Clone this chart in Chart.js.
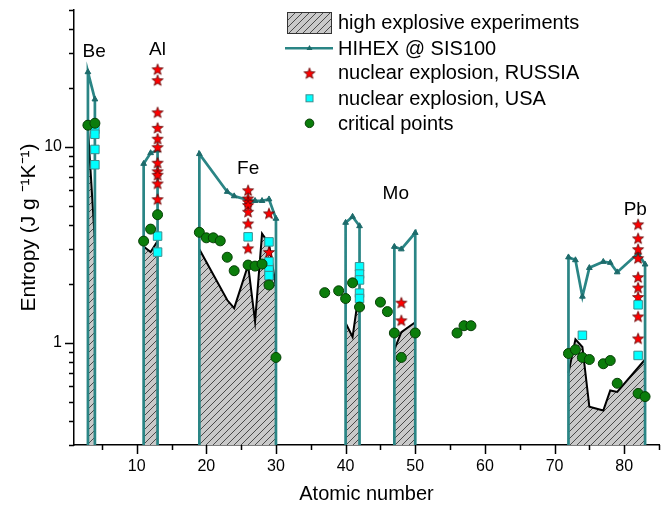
<!DOCTYPE html>
<html>
<head>
<meta charset="utf-8">
<script src="https://cdn.jsdelivr.net/npm/chart.js@4.4.1/dist/chart.umd.min.js"></script>
<style>
  html, body { margin: 0; padding: 0; background: #fff; }
</style>
</head>
<body>
<canvas id="grafico" width="666" height="511"></canvas>
<script>
// HIHEX @ SIS100 (null separa as regioes)
const hihexZ = [3, 4, null, 11, 12, 13, null, 19, 23, 24, 26, 27, 28, 29, 30, null, 40, 41, 42, null, 47, 48, 50, null, 72, 73, 74, 75, 77, 78, 79, 82, 83];
const hihexS = [24.1, 17.5, null, 8.2, 9.3, 9.6, null, 9.2, 5.9, 5.6, 5.35, 5.3, 5.3, 5.4, 4.3, null, 4.1, 4.4, 3.94, null, 3.09, 3.0, 3.64, null, 2.73, 2.64, 1.72, 2.41, 2.59, 2.56, 2.29, 2.86, 2.51];

// high explosive experiments
const heZ = [3, 4, null, 11, 12, 13, null, 19, 23, 24, 26, 27, 28, 29, 30, null, 40, 41, 42, null, 47, 48, 50, null, 72, 73, 74, 75, 77, 78, 79, 83];
const heS = [12.5, 3.3, null, 3.1, 2.9, 3.3, null, 3.0, 1.65, 1.5, 2.49, 1.28, 3.6, 3.2, 1.93, null, 1.26, 1.07, 1.9, null, 0.92, 1.13, 1.27, null, 0.70, 1.04, 0.95, 0.47, 0.45, 0.57, 0.56, 0.82];

// nuclear explosion, RUSSIA
const ruZ = [13, 13, 13, 13, 13, 13, 13, 13, 13, 13, 13, 26, 26, 26, 26, 26, 26, 26, 29, 29, 48, 48, 82, 82, 82, 82, 82, 82, 82, 82, 82];
const ruS = [24.9, 21.9, 15.0, 12.5, 11.0, 9.96, 8.3, 7.5, 7.2, 6.5, 5.4, 6.0, 5.45, 5.24, 5.04, 4.66, 4.06, 3.03, 4.57, 2.9, 1.60, 1.30, 4.02, 3.41, 3.0, 2.70, 2.16, 1.91, 1.71, 1.36, 1.05];

// nuclear explosion, USA
const usZ = [4, 4, 4, 4, 13, 13, 26, 29, 29, 29, 29, 42, 42, 42, 42, 42, 74, 82, 82];
const usS = [12.3, 11.6, 9.7, 8.1, 3.5, 2.9, 3.47, 3.27, 2.59, 2.35, 2.2, 2.44, 2.24, 2.09, 1.79, 1.68, 1.09, 1.56, 0.86];

// critical points
const crZ = [3, 4, 11, 12, 13, 19, 20, 21, 22, 23, 24, 26, 27, 28, 29, 30, 37, 39, 40, 41, 42, 45, 46, 47, 48, 50, 56, 57, 58, 72, 73, 74, 75, 77, 78, 79, 82, 83];
const crS = [12.9, 13.2, 3.3, 3.8, 4.5, 3.66, 3.43, 3.43, 3.31, 2.73, 2.33, 2.49, 2.46, 2.52, 1.97, 0.84, 1.80, 1.84, 1.68, 2.02, 1.52, 1.61, 1.44, 1.12, 0.84, 1.12, 1.12, 1.22, 1.22, 0.88, 0.92, 0.84, 0.82, 0.78, 0.81, 0.62, 0.55, 0.53];

// rotulos dos elementos
const elemNomes = ['Be', 'Al', 'Fe', 'Mo', 'Pb'];
const elemZ = [3.9, 13, 26, 47.2, 81.6];
const elemS = [30.5, 31.4, 7.76, 5.78, 4.75];

// eixos
const yMin = 0.3, yMax = 50;
const xMin = 1, xMax = 85;
const yMajor = [1, 10];
const yMinor = [0.3, 0.4, 0.5, 0.6, 0.7, 0.8, 0.9, 2, 3, 4, 5, 6, 7, 8, 9, 20, 30, 40, 50];
const xMajor = [10, 20, 30, 40, 50, 60, 70, 80];
const xMinor = [5, 15, 25, 35, 45, 55, 65, 75, 85];

const legendaTextos = ['high explosive experiments', 'HIHEX @ SIS100', 'nuclear explosion, RUSSIA', 'nuclear explosion, USA', 'critical points'];

const FONTE = "'Liberation Sans', Arial, sans-serif";
const TEAL = '#2a8585';
const TEAL_ESC = '#1d6b6b';

const canvas = document.getElementById('grafico');
const ctx0 = canvas.getContext('2d');

// padrao hachurado
function hachura() {
  const c = document.createElement('canvas');
  c.width = 7; c.height = 7;
  const g = c.getContext('2d');
  g.fillStyle = '#c9c9c9';
  g.fillRect(0, 0, 7, 7);
  g.strokeStyle = '#3a3a3a';
  g.lineWidth = 0.9;
  g.beginPath();
  g.moveTo(-1, 8); g.lineTo(8, -1);
  g.moveTo(-1, 1); g.lineTo(1, -1);
  g.moveTo(6, 8); g.lineTo(8, 6);
  g.stroke();
  return ctx0.createPattern(c, 'repeat');
}
const padrao = hachura();

// estrela vermelha
function estrela(r) {
  const s = Math.ceil(r * 2 + 2);
  const c = document.createElement('canvas');
  c.width = s; c.height = s;
  const g = c.getContext('2d');
  g.translate(s / 2, s / 2 + 0.5);
  g.beginPath();
  for (let i = 0; i < 10; i++) {
    const rr = i % 2 ? r * 0.42 : r;
    const a = -Math.PI / 2 + i * Math.PI / 5;
    g.lineTo(rr * Math.cos(a), rr * Math.sin(a));
  }
  g.closePath();
  g.fillStyle = '#ff0000';
  g.fill();
  g.strokeStyle = '#5a0000';
  g.lineWidth = 0.8;
  g.stroke();
  return c;
}
const imgEstrela = estrela(5.8);

function pontos(zs, ss) {
  return zs.map((z, i) => ({ x: z, y: ss[i] }));
}

// linhas com gaps (null) entre as regioes
function comGaps(zs, ss, queda) {
  const out = [];
  let seg = [];
  const fecha = () => {
    if (!seg.length) return;
    if (queda) out.push({ x: seg[0].x, y: yMin });
    out.push(...seg);
    if (queda) out.push({ x: seg[seg.length - 1].x, y: yMin });
    seg = [];
  };
  zs.forEach((z, i) => {
    if (z === null) {
      const ult = seg[seg.length - 1].x;
      fecha();
      out.push({ x: ult, y: null });
    } else {
      seg.push({ x: z, y: ss[i] });
    }
  });
  fecha();
  return out;
}

const marcasPlugin = {
  id: 'marcas',
  afterDraw(chart) {
    const { ctx, chartArea: a, scales: { x, y } } = chart;
    ctx.save();
    ctx.strokeStyle = '#000';
    ctx.lineWidth = 1.5;
    ctx.beginPath();
    yMajor.forEach(v => { const p = Math.round(y.getPixelForValue(v)) + 0.5; ctx.moveTo(a.left - 9, p); ctx.lineTo(a.left, p); });
    yMinor.forEach(v => { const p = Math.round(y.getPixelForValue(v)) + 0.5; ctx.moveTo(a.left - 5, p); ctx.lineTo(a.left, p); });
    xMajor.forEach(v => { const p = Math.round(x.getPixelForValue(v)) + 0.5; ctx.moveTo(p, a.bottom); ctx.lineTo(p, a.bottom + 9); });
    xMinor.forEach(v => { const p = Math.round(x.getPixelForValue(v)) + 0.5; ctx.moveTo(p, a.bottom); ctx.lineTo(p, a.bottom + 5); });
    ctx.stroke();

    // rotulos dos elementos
    ctx.fillStyle = '#000';
    ctx.font = '19px ' + FONTE;
    ctx.textAlign = 'center';
    ctx.textBaseline = 'middle';
    elemNomes.forEach((n, i) => {
      ctx.fillText(n, x.getPixelForValue(elemZ[i]), y.getPixelForValue(elemS[i]));
    });

    // legenda
    const xm = 309.5, xt = 338;
    const ys = [22.7, 48.3, 72.7, 98.3, 123.3];
    ctx.fillStyle = padrao;
    ctx.fillRect(287, 12, 45, 21);
    ctx.strokeStyle = '#333';
    ctx.lineWidth = 1;
    ctx.strokeRect(287.5, 12.5, 44, 21);

    ctx.strokeStyle = TEAL;
    ctx.lineWidth = 2.5;
    ctx.beginPath();
    ctx.moveTo(285, ys[1]); ctx.lineTo(333, ys[1]);
    ctx.stroke();
    ctx.fillStyle = TEAL_ESC;
    ctx.beginPath();
    ctx.moveTo(xm, ys[1] - 3.4); ctx.lineTo(xm + 3, ys[1] + 1.8); ctx.lineTo(xm - 3, ys[1] + 1.8);
    ctx.closePath();
    ctx.fill();

    ctx.drawImage(imgEstrela, xm - imgEstrela.width / 2, ys[2] - imgEstrela.height / 2 + 0.5);

    ctx.fillStyle = '#00ffff';
    ctx.fillRect(xm - 3.5, ys[3] - 3.5, 7, 7);
    ctx.strokeStyle = '#3c8c8c';
    ctx.lineWidth = 1;
    ctx.strokeRect(xm - 3.5, ys[3] - 3.5, 7, 7);

    ctx.fillStyle = '#0b7d0b';
    ctx.beginPath();
    ctx.arc(xm, ys[4], 4.3, 0, Math.PI * 2);
    ctx.fill();
    ctx.strokeStyle = '#063f06';
    ctx.stroke();

    ctx.fillStyle = '#000';
    ctx.font = '20px ' + FONTE;
    ctx.textAlign = 'left';
    legendaTextos.forEach((t, i) => ctx.fillText(t, xt, ys[i] + 1));
    ctx.restore();
  }
};

new Chart(canvas, {
  type: 'scatter',
  data: {
    datasets: [
      {
        label: legendaTextos[4],
        data: pontos(crZ, crS),
        pointStyle: 'circle',
        pointRadius: 5,
        pointBackgroundColor: '#0b7d0b',
        pointBorderColor: '#063f06',
        pointBorderWidth: 1,
        order: 1
      },
      {
        label: legendaTextos[3],
        data: pontos(usZ, usS),
        pointStyle: 'rect',
        pointRadius: 6,
        pointBackgroundColor: '#00ffff',
        pointBorderColor: '#3c8c8c',
        pointBorderWidth: 1,
        order: 2
      },
      {
        label: legendaTextos[2],
        data: pontos(ruZ, ruS),
        pointStyle: imgEstrela,
        pointRadius: 5.8,
        order: 3
      },
      {
        label: legendaTextos[1],
        data: comGaps(hihexZ, hihexS, true),
        showLine: true,
        spanGaps: false,
        borderColor: TEAL,
        borderWidth: 2.7,
        pointStyle: 'triangle',
        pointRadius: c => (c.raw && c.raw.y > yMin) ? 3.3 : 0,
        pointBackgroundColor: TEAL_ESC,
        pointBorderColor: TEAL_ESC,
        pointBorderWidth: 1,
        fill: false,
        order: 4
      },
      {
        label: legendaTextos[0],
        data: comGaps(heZ, heS, false),
        showLine: true,
        spanGaps: false,
        borderColor: '#000',
        borderWidth: 2,
        backgroundColor: padrao,
        fill: 'start',
        pointRadius: 0,
        order: 5
      }
    ]
  },
  options: {
    responsive: false,
    animation: false,
    devicePixelRatio: 1,
    layout: { padding: { top: 10, right: 5.4, left: 0, bottom: 0 } },
    plugins: { legend: { display: false }, tooltip: { enabled: false } },
    scales: {
      x: {
        type: 'linear',
        min: xMin,
        max: xMax,
        grid: { display: false, drawTicks: false },
        border: { color: '#000', width: 1.5 },
        afterBuildTicks: s => { s.ticks = xMajor.map(v => ({ value: v })); },
        afterFit: s => { s.height = 66; s.paddingLeft = 0; s.paddingRight = 0; },
        ticks: { padding: 12, color: '#000', font: { family: FONTE, size: 16 }, maxRotation: 0, autoSkip: false },
        title: { display: true, text: 'Atomic number', color: '#000', font: { family: FONTE, size: 20 }, padding: { top: 0, bottom: 5 } }
      },
      y: {
        type: 'logarithmic',
        min: yMin,
        max: yMax,
        grid: { display: false, drawTicks: false },
        border: { color: '#000', width: 1.5 },
        afterBuildTicks: s => { s.ticks = yMajor.map(v => ({ value: v })); },
        afterFit: s => { s.width = 74; s.paddingTop = 0; s.paddingBottom = 0; },
        ticks: { padding: 12, color: '#000', font: { family: FONTE, size: 16 }, callback: v => String(v) },
        title: { display: true, text: 'Entropy (J g \u207B\u00B9K\u207B\u00B9)', color: '#000', font: { family: FONTE, size: 21 }, padding: { top: 17, bottom: 0 } }
      }
    }
  },
  plugins: [marcasPlugin]
});
</script>
</body>
</html>
